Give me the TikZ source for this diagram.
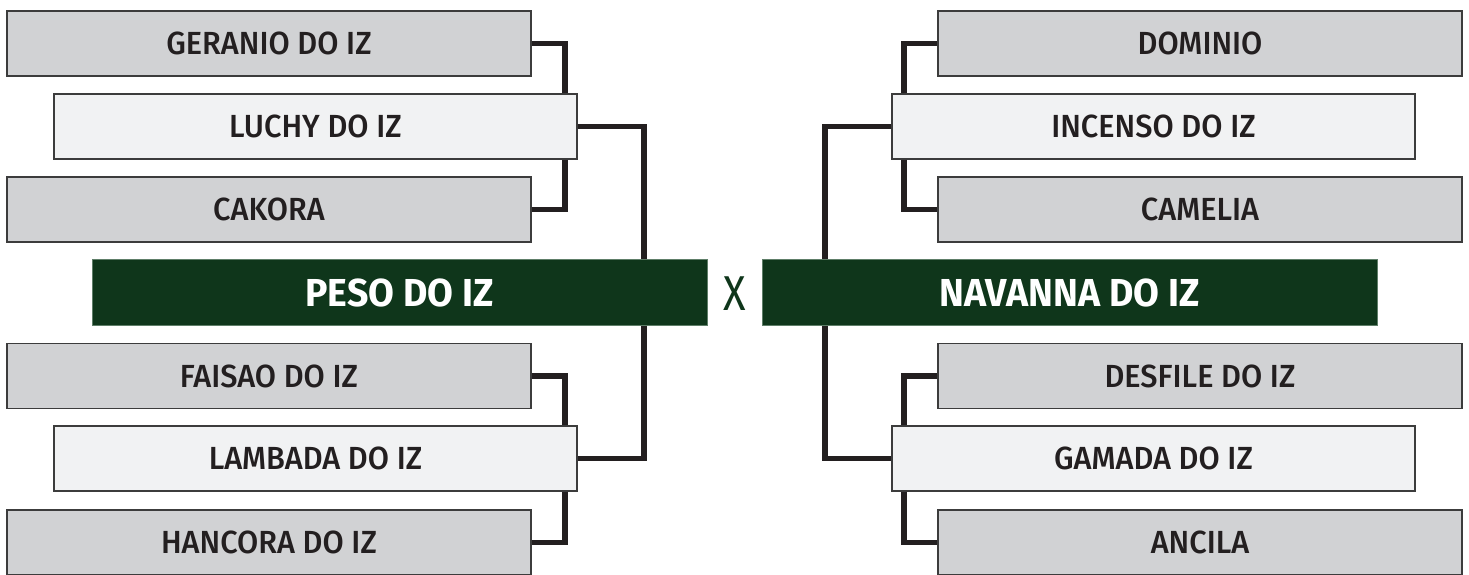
\documentclass[tikz,border=0pt]{standalone}
\usepackage{fontspec}
\newfontfamily\labfont[FakeStretch=0.96, UprightFont=* Medium]{Fira Sans}
\newfontfamily\greenfont[FakeStretch=0.96, UprightFont=* Bold]{Fira Sans}
\newfontfamily\xfont[FakeStretch=0.85]{Fira Sans}
\definecolor{boxgray}{HTML}{D1D2D4}
\definecolor{boxlight}{HTML}{F1F2F3}
\definecolor{boxedge}{HTML}{3C3C3C}
\definecolor{darkgreen}{HTML}{0F361B}
\definecolor{greenedge}{HTML}{5E7E68}
\definecolor{linecol}{HTML}{231F20}
\tikzset{
  graybox/.style={draw=boxedge, line width=1.3pt, fill=boxgray, minimum width=524pt, minimum height=65pt, inner sep=0pt, font=\labfont\fontsize{32}{32}\selectfont, text=linecol},
  lightbox/.style={draw=boxedge, line width=1.3pt, fill=boxlight, minimum width=523pt, minimum height=65pt, inner sep=0pt, font=\labfont\fontsize{32}{32}\selectfont, text=linecol},
  greenbox/.style={draw=greenedge, line width=0.8pt, fill=darkgreen, minimum width=615pt, minimum height=66pt, inner sep=0pt, font=\greenfont\fontsize{39}{39}\selectfont, text=white},
  conn/.style={draw=linecol, line width=5.2pt}
}
\begin{document}
\begin{tikzpicture}[x=1pt,y=-1pt]
\useasboundingbox (0,0) rectangle (1469,574);
% coordinates for connector columns
\coordinate (lA) at (565,0);
\coordinate (lB) at (644,0);
\coordinate (rA) at (904,0);
\coordinate (rB) at (825,0);
% nodes
\node[graybox]  (ger) at (269,43.5)    {GERANIO DO IZ};
\node[lightbox] (luc) at (315.5,126.5) {LUCHY DO IZ};
\node[graybox]  (cak) at (269,209.5)   {CAKORA};
\node[greenbox] (peso) at (399.5,292.5) {PESO DO IZ};
\node[graybox]  (fai) at (269,376)     {FAISAO DO IZ};
\node[lightbox] (lam) at (315.5,458.5) {LAMBADA DO IZ};
\node[graybox]  (han) at (269,542.5)   {HANCORA DO IZ};
\node[graybox]  (dom) at (1200,43.5)    {DOMINIO};
\node[lightbox] (inc) at (1153.5,126.5) {INCENSO DO IZ};
\node[graybox]  (cam) at (1200,209.5)   {CAMELIA};
\node[greenbox] (nav) at (1069.5,292.5) {NAVANNA DO IZ};
\node[graybox]  (des) at (1200,376)     {DESFILE DO IZ};
\node[lightbox] (gam) at (1153.5,458.5) {GAMADA DO IZ};
\node[graybox]  (anc) at (1200,542.5)   {ANCILA};
\node[text=darkgreen, font=\xfont\fontsize{49}{49}\selectfont, inner sep=0pt] (vs) at (734.5,294) {X};
% left connectors
\draw[conn] (ger.east) -| (lA |- luc.north);
\draw[conn] (lA |- luc.south) |- (cak.east);
\draw[conn] (fai.east) -| (lA |- lam.north);
\draw[conn] (lA |- lam.south) |- (han.east);
\draw[conn] (luc.east) -| (lB |- peso.north);
\draw[conn] (lB |- peso.south) |- (lam.east);
% right connectors
\draw[conn] (dom.west) -| (rA |- inc.north);
\draw[conn] (rA |- inc.south) |- (cam.west);
\draw[conn] (des.west) -| (rA |- gam.north);
\draw[conn] (rA |- gam.south) |- (anc.west);
\draw[conn] (inc.west) -| (rB |- nav.north);
\draw[conn] (rB |- nav.south) |- (gam.west);
\end{tikzpicture}
\end{document}
